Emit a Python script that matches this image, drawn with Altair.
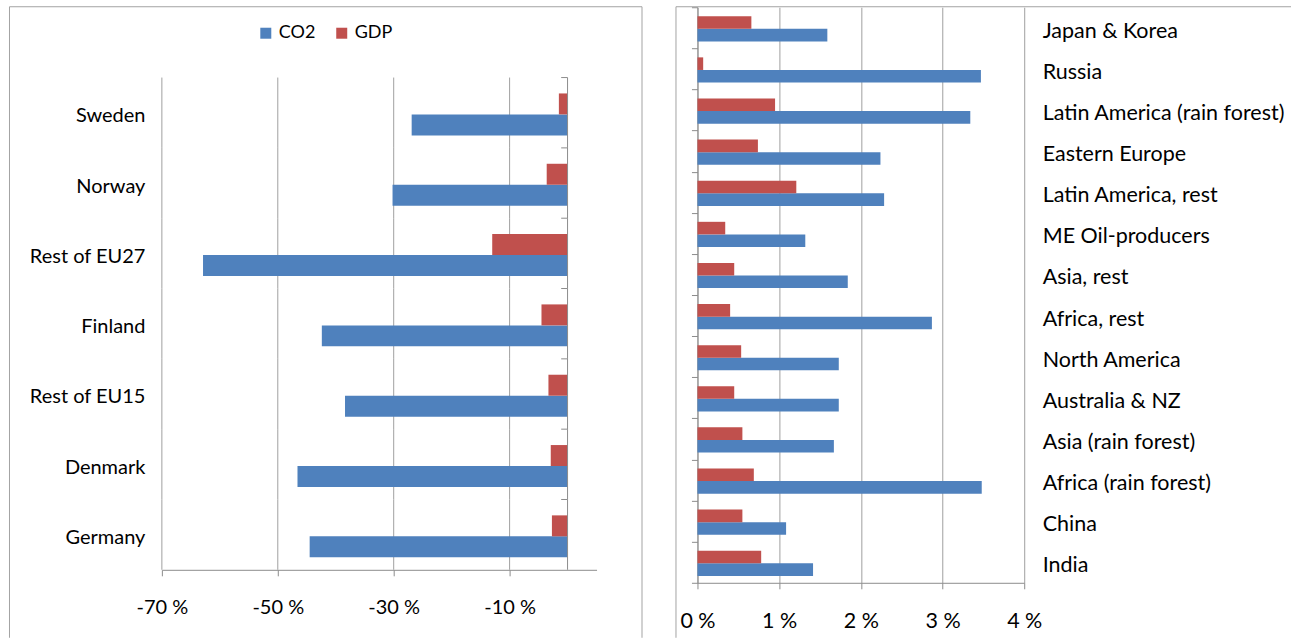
import altair as alt
import pandas as pd

# Left panel: change (%) in CO2 emissions and GDP, European regions (top to bottom)
eu_regions = ["Sweden", "Norway", "Rest of EU27", "Finland", "Rest of EU15", "Denmark", "Germany"]
eu_co2 = [-26.9, -30.2, -62.9, -42.4, -38.4, -46.6, -44.5]
eu_gdp = [-1.5, -3.6, -13.0, -4.5, -3.3, -2.9, -2.7]
eu_ticks = [-70, -50, -30, -10]

# Right panel: change (%) in CO2 emissions and GDP, rest of the world (top to bottom)
world_regions = [
    "Japan & Korea", "Russia", "Latin America (rain forest)", "Eastern Europe",
    "Latin America, rest", "ME Oil-producers", "Asia, rest", "Africa, rest",
    "North America", "Australia & NZ", "Asia (rain forest)", "Africa (rain forest)",
    "China", "India",
]
world_co2 = [1.59, 3.47, 3.34, 2.24, 2.285, 1.32, 1.84, 2.87, 1.73, 1.73, 1.67, 3.48, 1.085, 1.415]
world_gdp = [0.66, 0.07, 0.95, 0.74, 1.21, 0.34, 0.45, 0.40, 0.535, 0.45, 0.55, 0.69, 0.55, 0.78]
world_ticks = [0, 1, 2, 3, 4]

series = ["CO2", "GDP"]
series_colors = ["#4F81BD", "#C0504D"]

FONT = "Lato"
FS_LEFT = 20
FS_RIGHT = 21.5
GRID = "#A0A0A0"
AXIS = "#8C8C8C"
FRAME = "#A3A3A3"


def long_table(regions, co2, gdp):
    return pd.DataFrame({
        "region": regions + regions,
        "series": ["CO2"] * len(regions) + ["GDP"] * len(regions),
        "value": co2 + gdp,
    })


eu_df = long_table(eu_regions, eu_co2, eu_gdp)
world_df = long_table(world_regions, world_co2, world_gdp)
one_row = pd.DataFrame({"k": [0]})

color_scale = alt.Scale(domain=series, range=series_colors)


def frame_rule(x, y, x2=None, y2=None):
    enc = {"x": alt.value(x), "y": alt.value(y)}
    if x2 is not None:
        enc["x2"] = alt.value(x2)
    if y2 is not None:
        enc["y2"] = alt.value(y2)
    return alt.Chart(one_row).mark_rule(color=FRAME, strokeWidth=1).encode(**enc)


# ---------------- left panel ----------------
# a blank band on top leaves room for the legend
eu_domain = [" "] + eu_regions
eu_x_scale = alt.Scale(domain=[-70, 5], nice=False, zero=False)
eu_y_scale = alt.Scale(domain=eu_domain, paddingInner=0, paddingOuter=0)

eu_bars = alt.Chart(eu_df).mark_bar().encode(
    x=alt.X(
        "value:Q", scale=eu_x_scale, title=None,
        axis=alt.Axis(values=eu_ticks, labelExpr="datum.value + ' %'", grid=False,
                      labelFlush=False, domainColor=AXIS, tickColor=AXIS, tickSize=6,
                      labelPadding=22, labelFontSize=FS_LEFT),
    ),
    x2=alt.datum(0),
    y=alt.Y(
        "region:N", scale=eu_y_scale, title=None,
        axis=alt.Axis(domain=False, ticks=False, tickSize=0, labelPadding=17,
                      labelOffset=3.5, labelLimit=0, labelFontSize=FS_LEFT),
    ),
    yOffset=alt.YOffset("series:N", sort=["GDP", "CO2"],
                        scale=alt.Scale(paddingInner=0, paddingOuter=0.676, align=0.56)),
    color=alt.Color(
        "series:N", scale=color_scale,
        legend=alt.Legend(orient="none", legendX=95, legendY=17, direction="horizontal",
                          title=None, symbolType="square", symbolSize=121,
                          symbolStrokeWidth=0, labelFont=FONT, labelFontSize=18,
                          labelColor="black", columnPadding=17, labelOffset=4, padding=0),
    ),
)

eu_grid_df = pd.DataFrame(
    [(g, r) for g in eu_ticks for r in eu_regions], columns=["gv", "region"]
)
eu_grid = alt.Chart(eu_grid_df).mark_rule(color=GRID, strokeWidth=1).encode(
    x=alt.X("gv:Q", scale=eu_x_scale, title=None),
    y=alt.Y("region:N", scale=eu_y_scale, bandPosition=0, title=None),
    y2=alt.Y2("region", bandPosition=1),
)

zero_df = pd.DataFrame({"region": eu_regions})
eu_zero = alt.Chart(zero_df).mark_rule(color=AXIS, strokeWidth=1).encode(
    x=alt.datum(0),
    y=alt.Y("region:N", scale=eu_y_scale, bandPosition=0, title=None),
    y2=alt.Y2("region", bandPosition=1),
)
eu_yticks = alt.Chart(zero_df).mark_rule(color=AXIS, strokeWidth=1).encode(
    x=alt.datum(-1.1),
    x2=alt.datum(0),
    y=alt.Y("region:N", scale=eu_y_scale, bandPosition=0, title=None),
)

left = alt.layer(
    eu_grid, eu_bars, eu_zero, eu_yticks,
    frame_rule(-152.5, -0.5, y2=631),
    frame_rule(-152.5, -0.5, x2=480.5),
    frame_rule(480.5, -0.5, y2=631),
).properties(width=435, height=563)

# ---------------- right panel ----------------
w_x_scale = alt.Scale(domain=[0, 4], nice=False)
w_y_scale = alt.Scale(domain=world_regions, paddingInner=0, paddingOuter=0)

w_bars = alt.Chart(world_df).mark_bar().encode(
    x=alt.X(
        "value:Q", scale=w_x_scale, title=None,
        axis=alt.Axis(values=world_ticks, labelExpr="datum.value + ' %'", grid=True,
                      labelFlush=False, gridColor=GRID, domainColor=AXIS, tickColor=AXIS,
                      tickSize=6, labelPadding=22, labelFontSize=FS_RIGHT),
    ),
    x2=alt.datum(0),
    y=alt.Y(
        "region:N", scale=w_y_scale, title=None,
        axis=alt.Axis(orient="right", domain=False, ticks=False, tickSize=0,
                      labelPadding=18, labelAlign="left", labelOffset=4,
                      labelLimit=0, labelFontSize=FS_RIGHT),
    ),
    yOffset=alt.YOffset("series:N", sort=["GDP", "CO2"],
                        scale=alt.Scale(paddingInner=0, paddingOuter=0.633, align=0.566)),
    color=alt.Color("series:N", scale=color_scale, legend=None),
)

w_axis = alt.Chart(world_df).mark_bar(opacity=0).encode(
    y=alt.Y(
        "region:N", scale=w_y_scale, title=None,
        axis=alt.Axis(orient="left", labels=False, tickBand="extent", tickSize=6,
                      domainColor=AXIS, tickColor=AXIS),
    ),
)

right = alt.layer(
    w_bars, w_axis,
    frame_rule(-21.5, -0.5, y2=631),
    frame_rule(-21.5, -0.5, x2=594),
).resolve_axis(y="independent").properties(width=327, height=576)

chart = (
    alt.hconcat(left, right, spacing=33)
    .resolve_scale(color="independent", yOffset="independent")
    .properties(padding={"left": 9, "top": 6, "right": 0, "bottom": 0})
    .configure_view(stroke=None)
    .configure_axis(labelFont=FONT, labelColor="black")
)

chart.save("out.html", embed_options={"renderer": "svg", "actions": False})
